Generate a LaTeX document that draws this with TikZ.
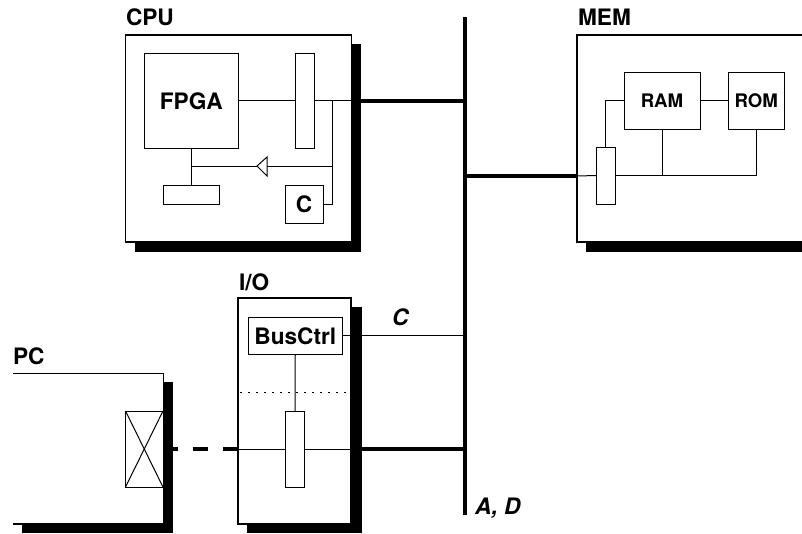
\documentclass[tikz,border=0pt]{standalone}
\usepackage{fontspec}
\setmainfont{TeX Gyre Heros}
\usetikzlibrary{calc}
\tikzset{
  thinline/.style={line width=0.75pt},
  busline/.style={line width=3.2pt},
  outerline/.style={line width=1.1pt},
  shadow/.style={fill=black,draw=none},
  box/.style={draw=black,line width=0.75pt,fill=white,inner sep=0pt,outer sep=0pt},
  big/.style={font=\fontsize{17pt}{18pt}\bfseries\selectfont},
  ital/.style={font=\fontsize{17pt}{18pt}\bfseries\itshape\selectfont},
  lab/.style={anchor=base west,inner sep=0pt,outer sep=0pt},
}
\newcommand{\bigt}{\fontsize{17pt}{18pt}\bfseries\selectfont}
\newcommand{\midt}{\fontsize{14pt}{16pt}\bfseries\selectfont}
% \boxn[style]{name}{x1}{y1}{x2}{y2}{text}, pixel coordinates
\newcommand{\boxn}[7][]{%
  \pgfmathsetmacro{\bw}{(#5-#3)*0.75}%
  \pgfmathsetmacro{\bh}{(#6-#4)*0.75}%
  \node[box,minimum width=\bw pt,minimum height=\bh pt,#1] (#2) at ({(#3+#5)/2},{(#4+#6)/2}) {#7};}
\begin{document}
\begin{tikzpicture}[x=0.75pt,y=-0.75pt]
\useasboundingbox (0,0) rectangle (802,533);
% shadows
\fill[shadow] (135,44) rectangle (361,251.5);
\fill[shadow] (586,242) rectangle (802,251.5);
\fill[shadow] (247,307) rectangle (361.5,533);
\fill[shadow] (163,382) rectangle (173,533);
\fill[shadow] (22,524) rectangle (173,533);
% outer boxes
\boxn[outerline]{cpu}{125.5}{35}{351.5}{242}{}
\boxn[outerline]{io}{238}{298}{351}{524}{}
\draw[outerline,fill=white] (802,35) -- (577,35) -- (577,242) -- (802,242);
\coordinate (memw) at (577,176);
\draw[outerline] (13,373.5) -- (163.5,373.5) -- (163.5,524) -- (13,524);
% bus
\coordinate (bustop) at (465,17);
\coordinate (busbot) at (465,514.5);
\draw[busline] (bustop) -- (busbot);
% CPU
\boxn{fpga}{144.5}{53.5}{238}{148}{\raisebox{-2pt}{\bigt FPGA}}
\boxn{cbar}{295}{53.5}{314}{148}{}
\boxn{crect}{163}{185}{219.5}{204}{}
\boxn{cc}{285}{185}{323}{223}{\raisebox{-1pt}{\bigt C}}
\coordinate (cj1) at (332,100.75);
\coordinate (cj2) at (332,166);
\coordinate (cj3) at (191.25,166);
\coordinate (cout) at (cpu.east |- cj1);
\coordinate (cbus) at (bustop |- cj1);
\coordinate (coutr) at (361,100.75);
\coordinate (tritip) at (257,166);
\coordinate (tribase) at (267,166);
\draw[thinline] (fpga.east) -- (cbar.west);
\draw[thinline] (cbar.east) -- (cout);
\draw[thinline] (cj1) |- (cc.east);
\draw[thinline] (cj2) -- (tribase);
\draw[thinline,fill=white] (267,157) -- (tritip) -- (267,176) -- cycle;
\draw[thinline] (tritip) -- (cj3);
\draw[thinline] (fpga.south) -- (crect.north);
\draw[busline] (coutr) -- (cbus);
\node[lab,big] (cpulabel) at (126,25.5) {CPU};
% MEM
\boxn{ram}{624}{72}{700}{129}{\raisebox{-1pt}{\midt RAM}}
\boxn{rom}{728}{72}{784.5}{129}{\raisebox{-1pt}{\midt ROM}}
\boxn{mbar}{596}{147}{615}{204}{}
\coordinate (mj) at (ram.south |- mbar.center);
\draw[thinline] (ram.east) -- (rom.west);
\draw[thinline] (mbar.north) |- (ram.west);
\draw[thinline] (memw) -- (mbar.west);
\draw[thinline] (mbar.east) -| (rom.south);
\draw[thinline] (ram.south) -- (mj);
\draw[busline] (bustop |- memw) -- (memw);
\node[lab,big] (memlabel) at (578,25.5) {MEM};
% I/O
\boxn{busctrl}{248}{317}{342.5}{354.5}{\raisebox{-1pt}{\bigt BusCtrl}}
\boxn{iobar}{285.5}{411}{304.5}{487}{}
\coordinate (iow) at (238,449);
\coordinate (ioe) at (351,449);
\coordinate (ioer) at (361.5,449);
\draw[thinline] (busctrl.south) -- (iobar.north);
\draw[thinline] (iow) -- (iobar.west);
\draw[thinline] (iobar.east) -- (ioe);
\draw[busline] (ioer) -- (bustop |- ioer);
\draw[thinline] (busctrl.east) -- (bustop |- busctrl.east);
\coordinate (dota) at (240,392);
\coordinate (dotb) at (350,392);
\draw[line width=0.75pt,dash pattern=on 1.5pt off 4.5pt] (dota) -- (dotb);
\node[lab,big] (iolabel) at (239,290) {I/O};
\node[lab,ital] (clabel) at (392,325) {C};
\node[lab,ital] (adlabel) at (475,514.5) {A, D};
% PC
\boxn{pcx}{125.5}{411}{163}{487}{}
\draw[thinline] (pcx.north west) -- (pcx.south east);
\draw[thinline] (pcx.north east) -- (pcx.south west);
\coordinate (pce) at (173,449);
\draw[busline,dash pattern=on 11.25pt off 11.25pt] (iow) -- (pce);
\node[lab,big] (pclabel) at (13,364) {PC};
\end{tikzpicture}
\end{document}
